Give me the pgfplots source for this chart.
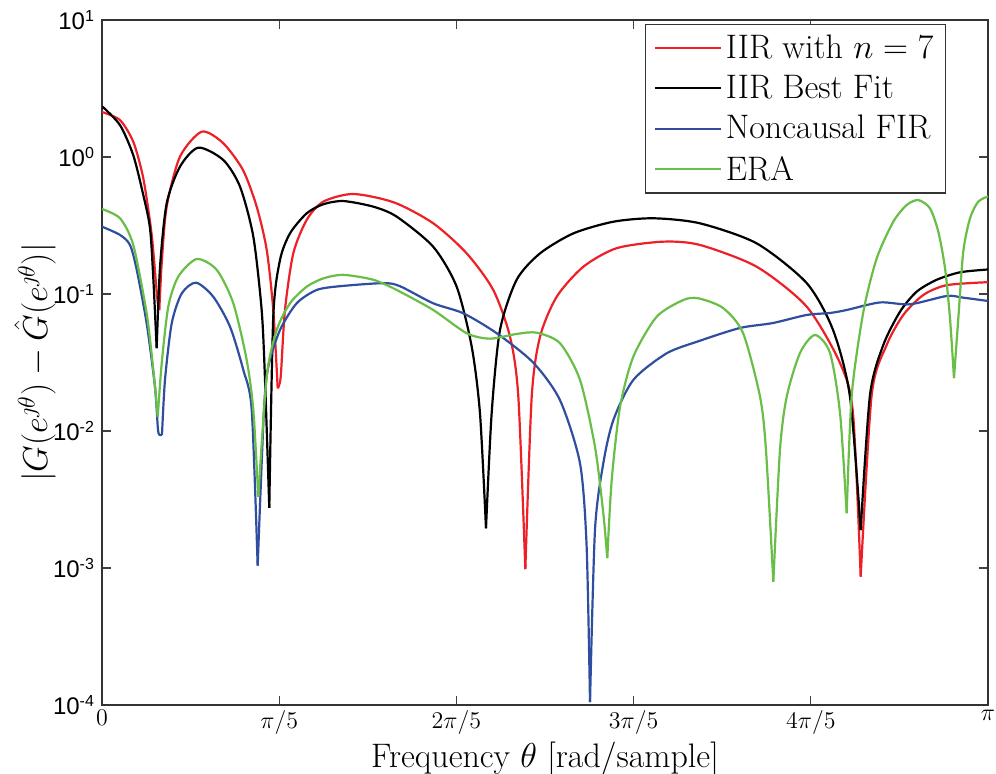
\documentclass[border=0pt]{standalone}
\usepackage{fontspec}
\usepackage{pgfplots}
\pgfplotsset{compat=1.18}
\newfontfamily\helv{Liberation Sans}
\definecolor{cred}{RGB}{236,32,38}
\definecolor{cblue}{RGB}{48,78,160}
\definecolor{cgreen}{RGB}{104,190,70}
% each curve is drawn as smooth pieces from one notch to the next
\pgfplotsset{seg/.style={smooth, tension=0.45}}
\begin{document}
\begin{tikzpicture}
\useasboundingbox (0,0) rectangle (498pt,387pt);
\begin{axis}[
  at={(51pt,34.5pt)}, anchor=south west,
  scale only axis, width=443pt, height=342.5pt,
  ymode=log, log basis y=10,
  xmin=0, xmax=1, ymin=1e-4, ymax=10,
  xtick={0,0.2,0.4,0.6,0.8,1},
  xticklabels={$0$,$\pi/5$,$2\pi/5$,$3\pi/5$,$4\pi/5$,$\pi$},
  ytick={1e-4,1e-3,1e-2,1e-1,1,10},
  yticklabels={10\textsuperscript{-4},10\textsuperscript{-3},10\textsuperscript{-2},10\textsuperscript{-1},10\textsuperscript{0},10\textsuperscript{1}},
  yticklabel style={font=\helv\fontsize{12}{14}\selectfont},
  xticklabel style={font=\fontsize{13}{15}\selectfont, yshift=1pt},
  tick align=inside, xtick pos=both, ytick pos=both, ticklabel pos=lower,
  major tick length=4.5pt, minor tick length=2.5pt,
  every tick/.style={black!75, line width=0.6pt},
  axis line style={black!80, line width=0.6pt},
  xlabel={Frequency $\theta$ [rad/sample]},
  ylabel={$|G(e^{\jmath\theta})-\hat{G}(e^{\jmath\theta})|$},
  label style={font=\fontsize{17}{20}\selectfont},
  xlabel style={at={(axis description cs:0.5,0)}, anchor=center, yshift=-27pt},
  ylabel style={at={(axis description cs:-0.0756,0.5)}, anchor=center},
  legend style={at={(0.9526,0.9942)}, anchor=north east, draw=black!80, line width=0.6pt,
    font=\fontsize{17}{20}\selectfont, row sep=3pt, inner xsep=4pt, inner ysep=3pt},
  legend cell align=left,
  legend image code/.code={\draw[#1, line width=1pt] (0pt,0pt) -- (33pt,0pt);},
  every axis plot/.append style={line width=1.1pt, line join=round},
]
% IIR with n = 7
\addplot[cred, seg] coordinates {(0,2.13)(0.0203,1.86)(0.0353,1.29)(0.0466,0.70)(0.0561,0.27)(0.0622,0.0955)(0.0647,0.0764)};
\addlegendentry{IIR with $n=7$}
\addplot[cred, seg, forget plot] coordinates {(0.0647,0.0764)(0.0674,0.168)(0.0730,0.434)(0.0880,1.005)(0.1125,1.53)(0.1366,1.265)(0.1591,0.804)(0.1746,0.434)(0.1859,0.210)(0.1933,0.0764)(0.1983,0.0205)};
\addplot[cred, seg, forget plot] coordinates {(0.1983,0.0205)(0.2017,0.0249)(0.2065,0.0764)(0.2159,0.198)(0.2310,0.347)(0.2498,0.472)(0.2836,0.537)(0.3300,0.465)(0.3739,0.328)(0.4116,0.198)(0.4416,0.107)(0.4605,0.0488)(0.4699,0.0178)(0.4778,0.00098)};
\addplot[cred, seg, forget plot] coordinates {(0.4778,0.00098)(0.4850,0.0178)(0.4944,0.0488)(0.5132,0.0955)(0.5432,0.158)(0.5809,0.216)(0.6335,0.241)(0.6749,0.228)(0.7390,0.158)(0.7954,0.0808)(0.8330,0.0313)(0.8476,0.0135)(0.8563,0.000864)};
\addplot[cred, seg, forget plot] coordinates {(0.8563,0.000864)(0.8687,0.0183)(0.8856,0.0424)(0.9044,0.0703)(0.9270,0.0984)(0.9534,0.116)(1,0.122)};
% IIR best fit
\addplot[black, seg] coordinates {(0,2.35)(0.0203,1.71)(0.0353,1.03)(0.0466,0.528)(0.0542,0.302)(0.0580,0.127)(0.0617,0.0402)};
\addlegendentry{IIR Best Fit}
\addplot[black, seg, forget plot] coordinates {(0.0617,0.0402)(0.0655,0.158)(0.0730,0.459)(0.0880,0.850)(0.1087,1.17)(0.1369,0.951)(0.1558,0.607)(0.1708,0.262)(0.1802,0.0764)(0.1840,0.0236)(0.1888,0.00275)};
\addplot[black, seg, forget plot] coordinates {(0.1888,0.00275)(0.1933,0.0683)(0.2009,0.177)(0.2122,0.277)(0.2310,0.388)(0.2498,0.452)(0.2723,0.477)(0.3062,0.434)(0.3326,0.367)(0.3739,0.221)(0.4003,0.113)(0.4173,0.0412)(0.4266,0.0135)(0.4334,0.00195)};
\addplot[black, seg, forget plot] coordinates {(0.4334,0.00195)(0.4398,0.0135)(0.4492,0.0546)(0.4680,0.127)(0.4944,0.198)(0.5320,0.277)(0.5771,0.337)(0.6223,0.357)(0.6749,0.328)(0.7390,0.234)(0.7954,0.120)(0.8251,0.0546)(0.8442,0.0178)(0.8563,0.00189)};
\addplot[black, seg, forget plot] coordinates {(0.8563,0.00189)(0.8668,0.0183)(0.8818,0.0424)(0.9007,0.0743)(0.9195,0.104)(0.9421,0.127)(0.9684,0.144)(1,0.151)};
% noncausal FIR
\addplot[cblue, seg] coordinates {(0,0.310)(0.0203,0.27)(0.0316,0.228)(0.0392,0.150)(0.0504,0.0611)(0.0598,0.0211)(0.0632,0.0102)(0.0655,0.00935)(0.0677,0.00935)};
\addlegendentry{Noncausal FIR}
\addplot[cblue, seg, forget plot] coordinates {(0.0677,0.00935)(0.0711,0.0236)(0.0787,0.0611)(0.0900,0.101)(0.1061,0.121)(0.1256,0.0955)(0.1445,0.0577)(0.1595,0.0279)(0.1690,0.0142)(0.1757,0.00104)};
\addplot[cblue, seg, forget plot] coordinates {(0.1757,0.00104)(0.1828,0.0142)(0.1877,0.0295)(0.2009,0.0546)(0.2197,0.0855)(0.2423,0.107)(0.2686,0.114)(0.3175,0.120)(0.3363,0.114)(0.3739,0.0855)(0.4078,0.0723)(0.4455,0.0517)(0.4868,0.0315)(0.5169,0.0168)(0.5395,0.00581)(0.5470,0.00143)(0.5508,0.000105)};
\addplot[cblue, seg, forget plot] coordinates {(0.5508,0.000105)(0.5564,0.00189)(0.5658,0.00581)(0.5771,0.0120)(0.5997,0.0236)(0.6373,0.0369)(0.6749,0.0456)(0.7201,0.0565)(0.7573,0.0614)(0.7954,0.0703)(0.8217,0.0727)(0.8405,0.0764)(0.8781,0.0868)(0.9120,0.0841)(0.9534,0.0967)(0.9721,0.094)(1,0.0889)};
% ERA
\addplot[cgreen, seg] coordinates {(0,0.417)(0.0203,0.357)(0.0353,0.228)(0.0504,0.0723)(0.0579,0.0279)(0.0629,0.0127)};
\addlegendentry{ERA}
\addplot[cgreen, seg, forget plot] coordinates {(0.0629,0.0127)(0.0674,0.0312)(0.0748,0.0808)(0.0861,0.134)(0.1069,0.180)(0.1295,0.150)(0.1482,0.0855)(0.1633,0.033)(0.1708,0.0142)(0.1764,0.00331)};
\addplot[cgreen, seg, forget plot] coordinates {(0.1764,0.00331)(0.1859,0.0249)(0.1972,0.0546)(0.2122,0.0855)(0.2310,0.113)(0.2498,0.130)(0.2723,0.138)(0.3062,0.127)(0.3326,0.107)(0.3739,0.0764)(0.4116,0.0517)(0.4379,0.0472)(0.4680,0.0511)(0.4906,0.0522)(0.5169,0.0437)(0.5395,0.0236)(0.5564,0.00768)(0.5658,0.00251)(0.5703,0.00118)};
\addplot[cgreen, seg, forget plot] coordinates {(0.5703,0.00118)(0.5753,0.00439)(0.5847,0.0150)(0.5997,0.0349)(0.6261,0.0683)(0.6561,0.0904)(0.6730,0.0930)(0.7009,0.0791)(0.7235,0.0519)(0.7427,0.0178)(0.7494,0.00726)(0.7577,0.000794)};
\addplot[cgreen, seg, forget plot] coordinates {(0.7577,0.000794)(0.7652,0.00726)(0.7728,0.0178)(0.7878,0.0371)(0.8047,0.0502)(0.8217,0.0371)(0.8330,0.0135)(0.8405,0.00251)};
\addplot[cgreen, seg, forget plot] coordinates {(0.8405,0.00251)(0.8462,0.0183)(0.8593,0.074)(0.8744,0.182)(0.8931,0.337)(0.9082,0.446)(0.9213,0.485)(0.9345,0.422)(0.9439,0.285)(0.9515,0.154)(0.9571,0.0665)(0.9616,0.0243)};
\addplot[cgreen, seg, forget plot] coordinates {(0.9616,0.0243)(0.9665,0.0665)(0.9721,0.204)(0.9797,0.357)(0.9890,0.472)(1,0.515)};
\end{axis}
\end{tikzpicture}
\end{document}
